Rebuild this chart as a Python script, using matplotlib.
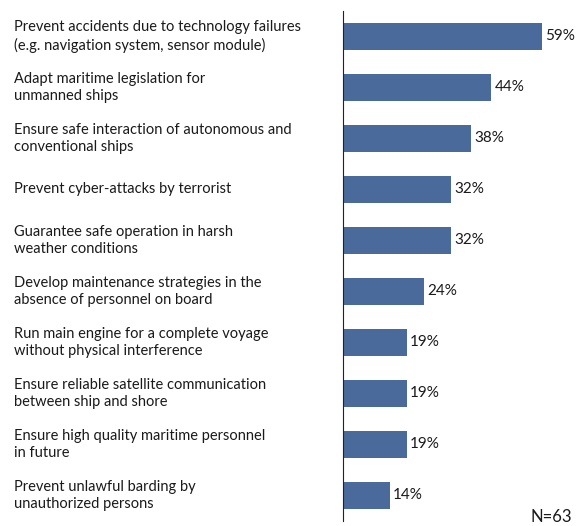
import matplotlib.pyplot as plt

labels = [
    "Prevent accidents due to technology failures\n(e.g. navigation system, sensor module)",
    "Adapt maritime legislation for\nunmanned ships",
    "Ensure safe interaction of autonomous and\nconventional ships",
    "Prevent cyber-attacks by terrorist",
    "Guarantee safe operation in harsh\nweather conditions",
    "Develop maintenance strategies in the\nabsence of personnel on board",
    "Run main engine for a complete voyage\nwithout physical interference",
    "Ensure reliable satellite communication\nbetween ship and shore",
    "Ensure high quality maritime personnel\nin future",
    "Prevent unlawful barding by\nunauthorized persons",
]
values = [59, 44, 38, 32, 32, 24, 19, 19, 19, 14]
sample_note = "N=63"

plt.rcParams['font.family'] = ['Lato', 'DejaVu Sans']
text_color = '#1a1a1a'
bar_color = '#4A6A9B'

W, H = 579, 526
fig = plt.figure(figsize=(W / 100, H / 100), dpi=100)
ax = fig.add_axes([343 / W, 1 - 521 / H, (W - 343) / W, 510 / H])

ypos = list(range(len(values)))
ax.barh(ypos, values, height=0.53, color=bar_color)
ax.set_ylim(len(values) - 0.5, -0.5)
ax.set_xlim(0, 70)

# value labels at the bar ends
for y, v in zip(ypos, values):
    ax.text(v + 0.9, y, f"{v}%", va='center', ha='left', fontsize=11, color=text_color)

# category labels sit left of the axis, left aligned
for y, lab in zip(ypos, labels):
    ax.annotate(lab, xy=(14 / W, y), xycoords=('figure fraction', 'data'),
                ha='left', va='center', fontsize=10.5, color=text_color,
                linespacing=1.3)

for spine in ['top', 'right', 'bottom']:
    ax.spines[spine].set_visible(False)
ax.spines['left'].set_color('#222222')
ax.set_xticks([])
ax.set_yticks([])

fig.text(572 / W, 1 - 517 / H, sample_note, ha='right', va='center', fontsize=12, color=text_color)

fig.savefig('out.png', dpi=100)
